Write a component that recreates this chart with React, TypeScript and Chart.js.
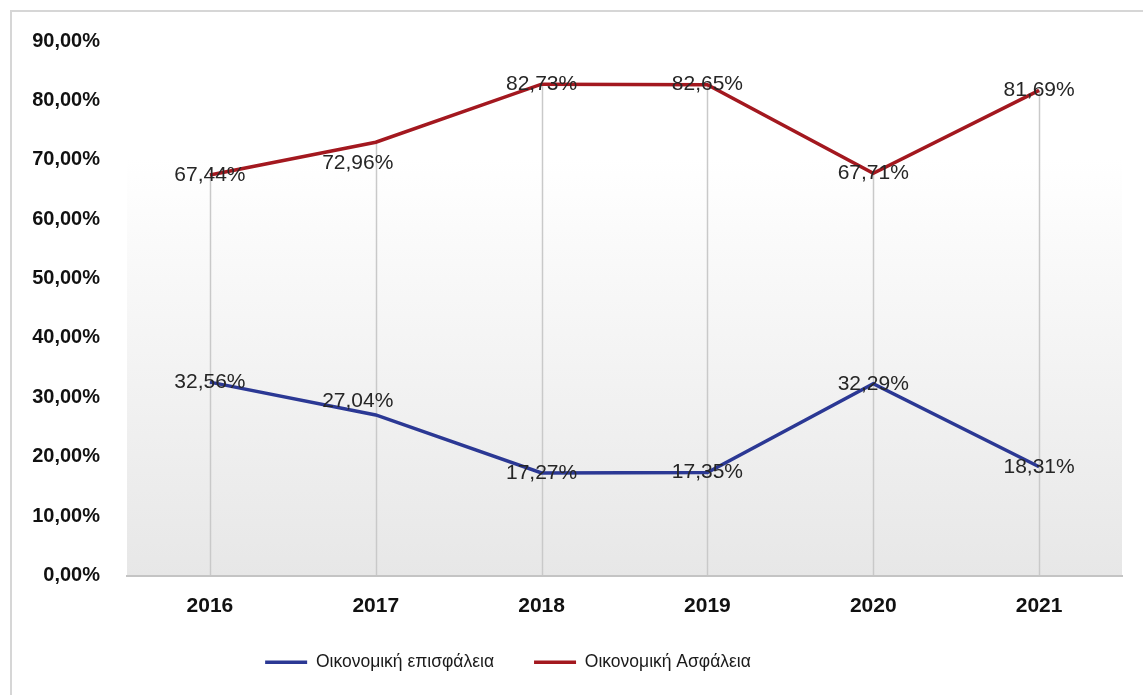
import React, { useEffect, useRef } from "react";
import { Chart, registerables } from "chart.js";

Chart.register(...registerables);

const years = ["2016", "2017", "2018", "2019", "2020", "2021"];
const insecurity = [32.56, 27.04, 17.27, 17.35, 32.29, 18.31];
const security = [67.44, 72.96, 82.73, 82.65, 67.71, 81.69];
const seriesNames = ["Οικονομική επισφάλεια", "Οικονομική Ασφάλεια"];
const yTicks = [0, 10, 20, 30, 40, 50, 60, 70, 80, 90];

const fmt = (v: number) => v.toFixed(2).replace(".", ",") + "%";

const decorPlugin = {
  id: "decor",
  afterLayout(chart: any) {
    // the legend in the reference sits left of the page centre
    if (chart.legend) {
      chart.legend.left -= 63;
      chart.legend.right -= 63;
    }
  },
  beforeDraw(chart: any) {
    const { ctx, chartArea } = chart;
    ctx.save();
    const g = ctx.createLinearGradient(0, chartArea.top, 0, chartArea.bottom);
    g.addColorStop(0, "#ffffff");
    g.addColorStop(0.22, "#ffffff");
    g.addColorStop(1, "#e7e7e7");
    ctx.fillStyle = g;
    ctx.fillRect(chartArea.left, chartArea.top, chartArea.right - chartArea.left, chartArea.bottom - chartArea.top);
    // drop lines
    const xs = chart.scales.x;
    const ys = chart.scales.y;
    ctx.strokeStyle = "#c9c9c9";
    ctx.lineWidth = 1.5;
    years.forEach((_, i) => {
      const top = Math.max(insecurity[i], security[i]);
      const x = Math.round(xs.getPixelForValue(i)) + 0.5;
      ctx.beginPath();
      ctx.moveTo(x, ys.getPixelForValue(top));
      ctx.lineTo(x, chartArea.bottom);
      ctx.stroke();
    });
    ctx.restore();
  },
  afterDatasetsDraw(chart: any) {
    const { ctx } = chart;
    const nudges: Record<string, [number, number]> = { "0-1": [-18, -14], "1-1": [-18, 21] };
    ctx.save();
    ctx.font = "21px 'Liberation Sans', Arial, sans-serif";
    ctx.fillStyle = "#262626";
    ctx.textAlign = "center";
    ctx.textBaseline = "middle";
    chart.data.datasets.forEach((ds: any, di: number) => {
      const meta = chart.getDatasetMeta(di);
      meta.data.forEach((pt: any, i: number) => {
        const n = nudges[di + "-" + i] || [0, 0];
        ctx.fillText(fmt(ds.data[i]), pt.x + n[0], pt.y + n[1]);
      });
    });
    ctx.restore();
  },
  afterDraw(chart: any) {
    const { ctx } = chart;
    ctx.save();
    ctx.strokeStyle = "#d6d6d6";
    ctx.lineWidth = 2;
    ctx.strokeRect(11, 11, 1150, 720);
    ctx.restore();
  },
};

export default function App() {
  const ref = useRef<HTMLCanvasElement>(null);
  useEffect(() => {
    document.body.style.margin = "0";
    const chart = new Chart(ref.current!, {
      type: "line",
      data: {
        labels: years,
        datasets: [
          {
            label: seriesNames[0],
            data: insecurity,
            borderColor: "#2B3894",
            backgroundColor: "#2B3894",
            borderWidth: 3.5,
            pointRadius: 0,
            tension: 0,
          },
          {
            label: seriesNames[1],
            data: security,
            borderColor: "#A3181F",
            backgroundColor: "#A3181F",
            borderWidth: 3.5,
            pointRadius: 0,
            tension: 0,
          },
        ],
      },
      options: {
        responsive: false,
        animation: false,
        layout: { padding: { left: 20, right: 21, top: 41, bottom: 14 } },
        plugins: {
          tooltip: { enabled: false },
          legend: {
            position: "bottom",
            labels: {
              usePointStyle: true,
              pointStyle: "line",
              pointStyleWidth: 42,
              boxHeight: 3,
              padding: 40,
              color: "#1a1a1a",
              font: { family: "'Liberation Sans Narrow', 'Liberation Sans', sans-serif", size: 17.5 },
            },
          },
        },
        scales: {
          x: {
            offset: true,
            grid: { display: false, drawTicks: false },
            border: { display: true, color: "#c4c4c4", width: 2 },
            ticks: {
              padding: 18,
              color: "#111",
              font: { family: "'Liberation Sans', Arial, sans-serif", size: 21, weight: "bold" },
            },
            afterFit(scale: any) {
              scale.height = 38;
            },
          },
          y: {
            min: 0,
            max: 90,
            afterBuildTicks(scale: any) {
              scale.ticks = yTicks.map((v) => ({ value: v }));
            },
            grid: { display: false, drawTicks: false },
            border: { display: false },
            ticks: {
              padding: 27,
              color: "#111",
              font: { family: "'Liberation Sans', Arial, sans-serif", size: 20, weight: "bold" },
              callback: (v: any) => fmt(Number(v)),
            },
            afterFit(scale: any) {
              scale.width = 107;
            },
          },
        },
      },
      plugins: [decorPlugin],
    });
    return () => chart.destroy();
  }, []);
  return <canvas ref={ref} width={1143} height={695} style={{ display: "block" }} />;
}
